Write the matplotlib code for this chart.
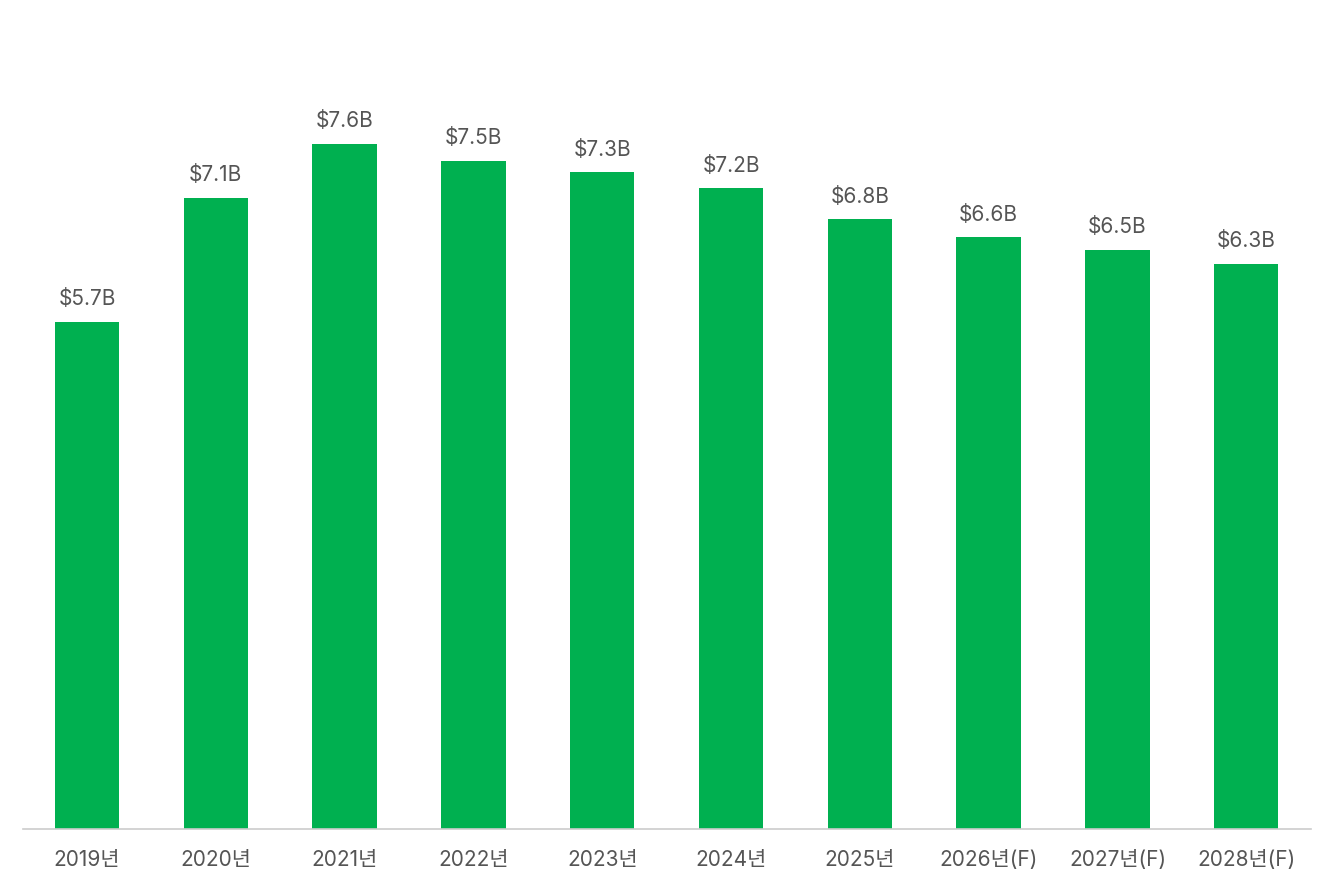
import matplotlib
matplotlib.use('Agg')
import matplotlib.pyplot as plt

plt.rcParams['font.family'] = ['Inter', 'Noto Sans CJK KR', 'DejaVu Sans']

years = ['2019년', '2020년', '2021년', '2022년', '2023년', '2024년',
         '2025년', '2026년(F)', '2027년(F)', '2028년(F)']
# market size in billions of dollars (heights)
values = [5.70, 7.09, 7.70, 7.51, 7.38, 7.20, 6.85, 6.65, 6.51, 6.35]
labels = ['$5.7B', '$7.1B', '$7.6B', '$7.5B', '$7.3B', '$7.2B',
          '$6.8B', '$6.6B', '$6.5B', '$6.3B']

fig = plt.figure(figsize=(13.34, 8.89), dpi=100)
ax = fig.add_axes([0.017, 0.0675, 0.9655, 0.9325])

x = range(len(years))
bars = ax.bar(x, values, width=0.5, color='#00B050')

for b, lab in zip(bars, labels):
    ax.annotate(lab, (b.get_x() + b.get_width() / 2, b.get_height()),
                xytext=(0, 9), textcoords='offset points',
                ha='center', va='bottom', fontsize=15, color='#555555')

ax.set_xlim(-0.5, len(years) - 0.5)
ax.set_ylim(0, 829 / 89)
ax.set_xticks(list(x))
ax.set_xticklabels(years, fontsize=15, color='#555555')
ax.tick_params(axis='x', length=0, pad=15)
ax.set_yticks([])
for s in ['top', 'right', 'left']:
    ax.spines[s].set_visible(False)
ax.spines['bottom'].set_color('#cccccc')
ax.spines['bottom'].set_linewidth(1.2)

fig.savefig('out.png', dpi=100)
